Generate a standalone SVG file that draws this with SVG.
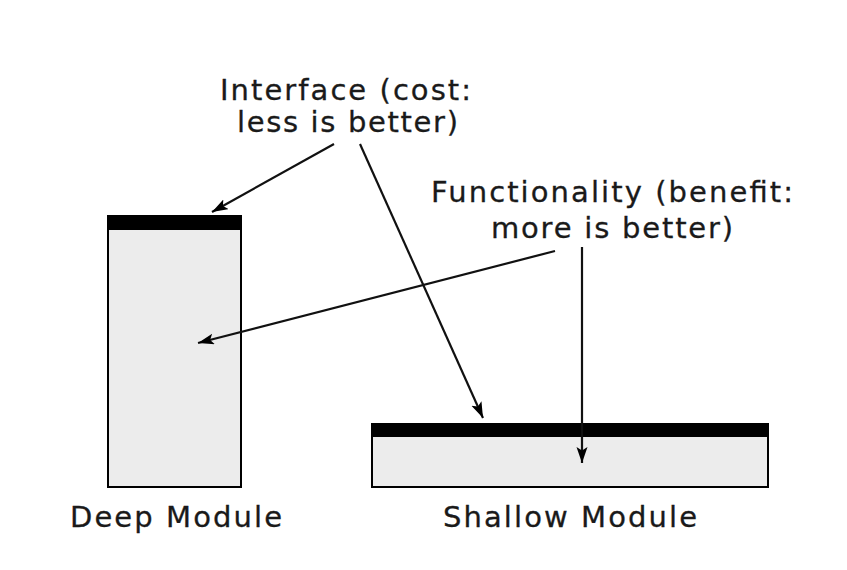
<svg xmlns="http://www.w3.org/2000/svg" width="847" height="570" viewBox="0 0 847 570">
<style>
.body{fill:#ececec;stroke:#000;stroke-width:2}
.bar{fill:#000}
.lbl{font-family:"DejaVu Sans",Verdana,sans-serif;font-size:29px;fill:#1a1a1a;stroke:#1a1a1a;stroke-width:0.3}
.conn{stroke:#111;stroke-width:2.2;fill:none;marker-end:url(#ah)}
</style>
<defs>
<marker id="ah" markerUnits="userSpaceOnUse" markerWidth="18" markerHeight="12" refX="16" refY="5.5" orient="auto">
<path d="M0,0 L16,5.5 L0,11 L3.5,5.5 z" fill="#000"/>
</marker>
</defs>
<rect width="847" height="570" fill="#fff"/>
<g id="deep-module">
<rect class="body" x="108" y="216" width="133" height="271"/>
<rect class="bar" x="107" y="215" width="135" height="15"/>
<text class="lbl" x="70" y="527" textLength="212" lengthAdjust="spacing">Deep Module</text>
</g>
<g id="shallow-module">
<rect class="body" x="372" y="424" width="396" height="63"/>
<rect class="bar" x="371" y="423" width="398" height="14"/>
<text class="lbl" x="443" y="527" textLength="254" lengthAdjust="spacing">Shallow Module</text>
</g>
<g id="interface-label">
<text class="lbl" x="220" y="100" textLength="251" lengthAdjust="spacing">Interface (cost:</text>
<text class="lbl" x="237" y="132" textLength="221" lengthAdjust="spacing">less is better)</text>
</g>
<g id="functionality-label">
<text class="lbl" x="431" y="202" textLength="362" lengthAdjust="spacing">Functionality (benefit:</text>
<text class="lbl" x="491" y="238" textLength="242" lengthAdjust="spacing">more is better)</text>
</g>
<g id="connectors">
<line class="conn" x1="334" y1="144" x2="212" y2="212"/>
<line class="conn" x1="360" y1="144" x2="483" y2="418"/>
<line class="conn" x1="555" y1="251" x2="198" y2="343"/>
<line class="conn" x1="582" y1="247" x2="582" y2="463"/>
</g>
</svg>
